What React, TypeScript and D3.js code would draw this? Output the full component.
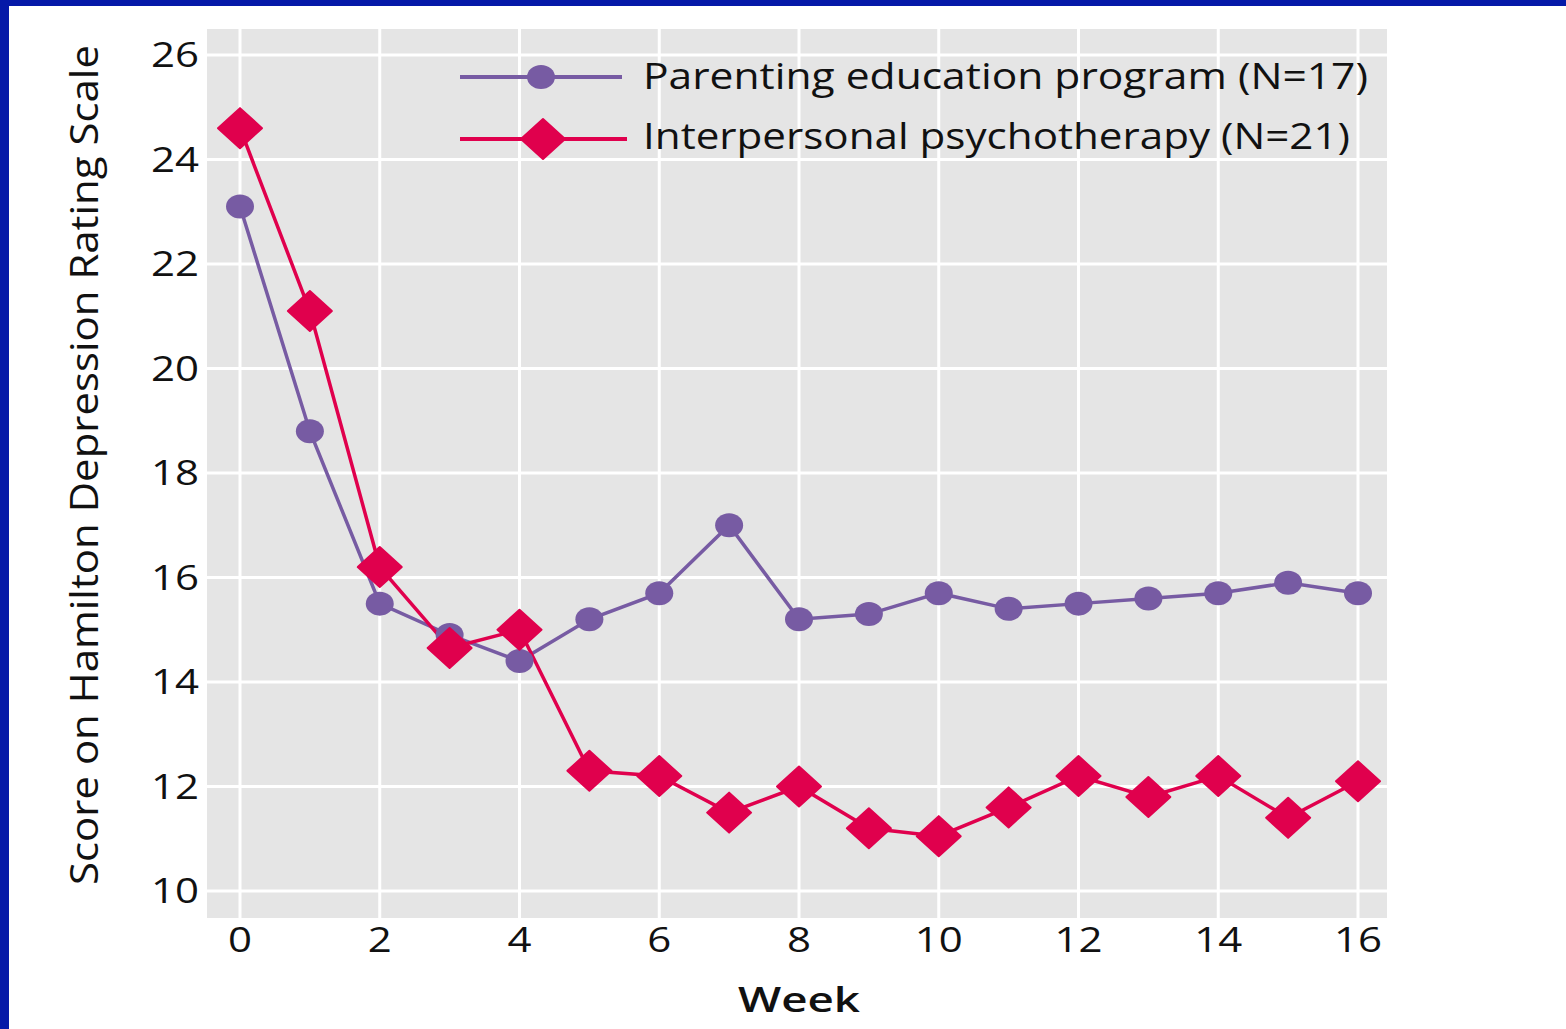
import React, { useEffect } from 'react';
import * as d3 from 'd3';

// weeks on x, Hamilton scores on y
const weeks = [0, 1, 2, 3, 4, 5, 6, 7, 8, 9, 10, 11, 12, 13, 14, 15, 16];
const parenting = [23.1, 18.8, 15.5, 14.9, 14.4, 15.2, 15.7, 17.0, 15.2, 15.3, 15.7, 15.4, 15.5, 15.6, 15.7, 15.9, 15.7];
const interpersonal = [24.6, 21.1, 16.2, 14.65, 15.0, 12.3, 12.2, 11.5, 12.0, 11.2, 11.05, 11.6, 12.2, 11.8, 12.2, 11.4, 12.1];
const xTicks = [0, 2, 4, 6, 8, 10, 12, 14, 16];
const yTicks = [10, 12, 14, 16, 18, 20, 22, 24, 26];
const seriesNames = ['Parenting education program (N=17)', 'Interpersonal psychotherapy (N=21)'];

const W = 1566;
const H = 1029;
const purple = '#775BA3';
const red = '#E0004D';
const font = '"Open Sans", "DejaVu Sans", sans-serif';

export default function App() {
    useEffect(() => {
        document.body.style.margin = '0';
    }, []);

    const x = d3.scaleLinear().domain([0, 16]).range([240, 1358]);
    const y = d3.scaleLinear().domain([10, 26]).range([891, 55]);

    const plot = { left: 207, right: 1387, top: 29, bottom: 918 };

    const line = d3.line<number>()
        .x((d, i) => x(weeks[i]))
        .y(d => y(d));

    const diamond = (cx: number, cy: number, hw = 22, hh = 20) =>
        `M${cx},${cy - hh} L${cx + hw},${cy} L${cx},${cy + hh} L${cx - hw},${cy} Z`;

    return (
        <svg width={W} height={H} style={{ display: 'block', background: 'white' }}>
            {/* blue frame */}
            <rect x={0} y={0} width={W} height={6} fill="#0519A8" />
            <rect x={0} y={0} width={9} height={H} fill="#0519A8" />

            <rect x={plot.left} y={plot.top} width={plot.right - plot.left} height={plot.bottom - plot.top} fill="#E5E5E5" />
            {yTicks.map(t => (
                <line key={'gy' + t} x1={plot.left} x2={plot.right} y1={y(t)} y2={y(t)} stroke="white" strokeWidth={3} />
            ))}
            {xTicks.map(t => (
                <line key={'gx' + t} x1={x(t)} x2={x(t)} y1={plot.top} y2={plot.bottom} stroke="white" strokeWidth={3} />
            ))}

            {yTicks.map(t => (
                <text key={'ty' + t} x={199} y={y(t) + 12} textAnchor="end" fontFamily={font} fontSize={35} fill="#111"
                    textLength={String(t).length * 24} lengthAdjust="spacingAndGlyphs">{t}</text>
            ))}
            {xTicks.map(t => (
                <text key={'tx' + t} x={x(t)} y={952} textAnchor="middle" fontFamily={font} fontSize={35} fill="#111"
                    textLength={String(t).length * 24} lengthAdjust="spacingAndGlyphs">{t}</text>
            ))}

            {/* series */}
            <path d={line(parenting) || ''} fill="none" stroke={purple} strokeWidth={3.5} />
            <path d={line(interpersonal) || ''} fill="none" stroke={red} strokeWidth={3.5} />
            {parenting.map((v, i) => (
                <ellipse key={'p' + i} cx={x(weeks[i])} cy={y(v)} rx={14} ry={12} fill={purple} />
            ))}
            {interpersonal.map((v, i) => (
                <path key={'r' + i} d={diamond(x(weeks[i]), y(v))} fill={red} stroke={red} strokeWidth={2} strokeLinejoin="round" />
            ))}

            {/* legend */}
            <line x1={460} x2={622} y1={77} y2={77} stroke={purple} strokeWidth={4} />
            <ellipse cx={541} cy={77} rx={14} ry={12} fill={purple} />
            <line x1={460} x2={627} y1={139} y2={139} stroke={red} strokeWidth={4} />
            <path d={diamond(543, 139)} fill={red} stroke={red} strokeWidth={2} strokeLinejoin="round" />
            <text x={643} y={89} fontFamily={font} fontSize={36} fill="#111" textLength={725} lengthAdjust="spacingAndGlyphs">{seriesNames[0]}</text>
            <text x={643} y={149} fontFamily={font} fontSize={36} fill="#111" textLength={707} lengthAdjust="spacingAndGlyphs">{seriesNames[1]}</text>

            {/* axis titles */}
            <text transform="translate(98,465) rotate(-90)" textAnchor="middle" fontFamily={font} fontSize={38} fill="#111"
                textLength={840} lengthAdjust="spacingAndGlyphs">Score on Hamilton Depression Rating Scale</text>
            <text x={799} y={1012} textAnchor="middle" fontFamily={font} fontSize={34} fontWeight="600" fill="#111"
                textLength={122} lengthAdjust="spacingAndGlyphs">Week</text>
        </svg>
    );
}
